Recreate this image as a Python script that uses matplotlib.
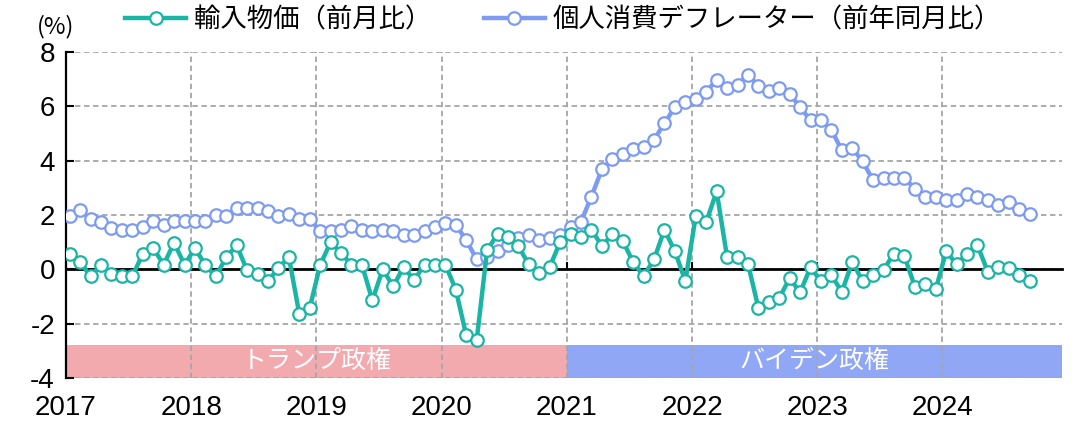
# Import prices (MoM) vs PCE deflator (YoY), Trump / Biden eras
import numpy as np
import matplotlib
matplotlib.use("agg")
import matplotlib.pyplot as plt

plt.rcParams["axes.unicode_minus"] = False

JP_FONT = ["Noto Sans CJK JP", "DejaVu Sans"]
NUM_FONT = ["Liberation Sans", "DejaVu Sans"]

TEAL = "#1BB5A6"
BLUE = "#7E9BF2"

YEARS = [2017, 2018, 2019, 2020, 2021, 2022, 2023, 2024]

# monthly, Jan 2017 - Sep 2024
import_prices = [
	0.58, 0.27, -0.26, 0.17, -0.16, -0.26, -0.26, 0.58, 0.78, 0.17, 0.98, 0.17,
	0.78, 0.15, -0.26, 0.45, 0.88, -0.04, -0.16, -0.44, 0.05, 0.45, -1.64, -1.42,
	0.16, 1.00, 0.60, 0.17, 0.17, -1.14, 0.00, -0.63, 0.09, -0.40, 0.17, 0.17,
	0.17, -0.75, -2.43, -2.61, 0.70, 1.30, 1.19, 0.85, 0.18, -0.13, 0.09, 1.00,
	1.30, 1.19, 1.46, 0.86, 1.29, 1.04, 0.27, -0.25, 0.37, 1.46, 0.66, -0.43,
	1.96, 1.74, 2.87, 0.45, 0.45, 0.21, -1.42, -1.22, -1.05, -0.33, -0.85, 0.08,
	-0.44, -0.22, -0.83, 0.27, -0.44, -0.22, -0.01, 0.58, 0.48, -0.64, -0.53, -0.74,
	0.67, 0.18, 0.58, 0.88, -0.10, 0.09, 0.05, -0.22, -0.43,
]
pce_deflator = [
	1.96, 2.17, 1.86, 1.74, 1.53, 1.43, 1.43, 1.55, 1.78, 1.65, 1.78, 1.78,
	1.78, 1.78, 1.99, 1.96, 2.27, 2.27, 2.27, 2.15, 1.95, 2.05, 1.86, 1.86,
	1.40, 1.40, 1.46, 1.58, 1.46, 1.40, 1.46, 1.40, 1.25, 1.25, 1.40, 1.56,
	1.70, 1.65, 1.07, 0.37, 0.45, 0.66, 0.88, 1.16, 1.28, 1.07, 1.17, 1.27,
	1.57, 1.75, 2.68, 3.68, 4.06, 4.25, 4.44, 4.52, 4.77, 5.38, 5.97, 6.15,
	6.27, 6.54, 6.97, 6.67, 6.79, 7.16, 6.76, 6.56, 6.67, 6.46, 5.97, 5.48,
	5.48, 5.13, 4.38, 4.46, 3.97, 3.27, 3.36, 3.36, 3.36, 2.97, 2.66, 2.66,
	2.54, 2.54, 2.78, 2.66, 2.56, 2.35, 2.47, 2.23, 2.05,
]

ERAS = ["トランプ政権", "バイデン政権"]
ERA_COLORS = ["#F2AAAF", "#8FA7F5"]
ERA_START = [2017, 2021]

months = np.arange(len(import_prices))
edge = -0.36                      # left edge of the axis, in months
xmax = 95.1
year_pos = [edge + 12 * (y - YEARS[0]) for y in YEARS]

fig = plt.figure(figsize=(10.79, 4.26), dpi=100)
ax = fig.add_axes([66 / 1079, 1 - 378 / 426, (1062 - 66) / 1079, 326 / 426])

ax.plot(months, import_prices, color=TEAL, lw=3.2, marker="o", ms=9,
	mfc="white", mec=TEAL, mew=1.6, label="輸入物価（前月比）", zorder=4)
ax.plot(months, pce_deflator, color=BLUE, lw=3.2, marker="o", ms=9,
	mfc="white", mec=BLUE, mew=1.6, label="個人消費デフレーター（前年同月比）", zorder=3)

# administration bands along the bottom
ends = [year_pos[YEARS.index(ERA_START[1])], xmax]
starts = [edge, ends[0]]
for name, c, s, e in zip(ERAS, ERA_COLORS, starts, ends):
	ax.fill_between([s, e], -4, -2.8, color=c, lw=0, zorder=0.3)
	ax.text((s + e) / 2, -3.38, name, ha="center", va="center", color="white",
		fontsize=18, family=JP_FONT, zorder=1)

ax.set_xlim(edge, xmax)
ax.set_ylim(-4, 8)
ax.set_yticks(range(-4, 9, 2))
ax.set_xticks(year_pos)
ax.tick_params(axis="x", direction="in", length=5, width=1.5, labelbottom=False)
ax.tick_params(axis="y", direction="in", length=6, width=1.5, labelsize=20, pad=8)
for lab in ax.get_yticklabels():
	lab.set_family(NUM_FONT)

ax.grid(True, color="#A6A6A6", ls=(0, (3, 2)), lw=1.3)
ax.set_axisbelow(True)
for s in ["top", "right"]:
	ax.spines[s].set_visible(False)
ax.spines["left"].set_linewidth(1.6)
ax.spines["bottom"].set_position(("data", 0))
ax.spines["bottom"].set_linewidth(2)
ax.spines["bottom"].set_zorder(2)

sec = ax.secondary_xaxis(0)
sec.set_xticks(year_pos, [str(y) for y in YEARS])
sec.tick_params(length=0, labelsize=20, pad=12)
sec.spines["bottom"].set_visible(False)
for lab in sec.get_xticklabels():
	lab.set_family(NUM_FONT)

fig.text(0.034, 0.922, "(%)", fontsize=17, family=JP_FONT)
fig.legend(loc="upper center", bbox_to_anchor=(0.522, 1.04), ncol=2, frameon=False,
	prop={"family": JP_FONT, "size": 19}, handlelength=2.3, columnspacing=2.0,
	handletextpad=0.3)

plt.savefig("out.png")
